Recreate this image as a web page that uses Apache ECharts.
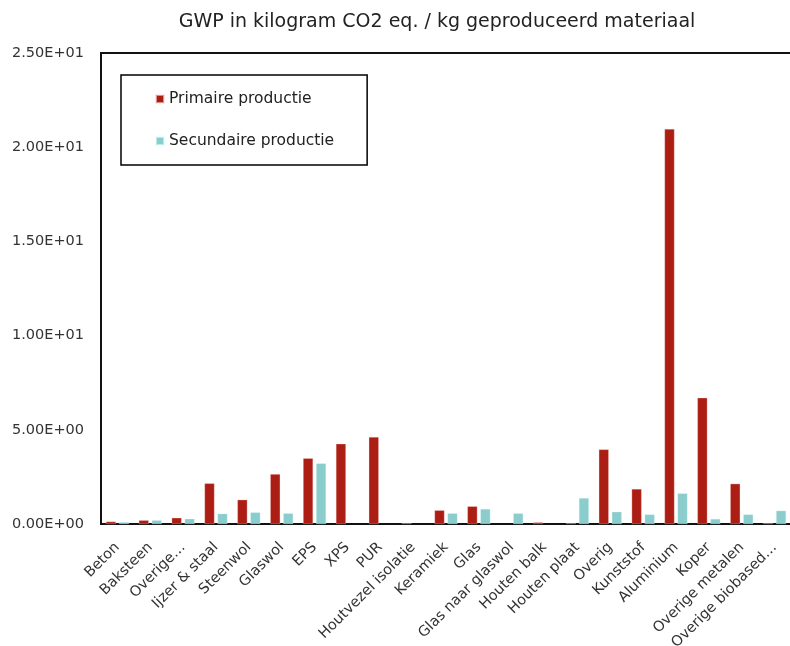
<!DOCTYPE html>
<html>
<head>
<meta charset="utf-8">
<script src="https://cdn.jsdelivr.net/npm/echarts@6/dist/echarts.min.js"></script>
<style>html,body{margin:0;padding:0;background:#fff;}#c{width:790px;height:646px;}</style>
</head>
<body>
<div id="c"></div>
<script>
const categories = ['Beton','Baksteen','Overige…','Ijzer & staal','Steenwol','Glaswol','EPS','XPS','PUR','Houtvezel isolatie','Keramiek','Glas','Glas naar glaswol','Houten balk','Houten plaat','Overig','Kunststof','Aluminium','Koper','Overige metalen','Overige biobased…'];
const primaire = [0.13,0.2,0.33,2.16,1.29,2.65,3.49,4.26,4.62,0.05,0.73,0.94,null,0.09,0.05,3.96,1.86,20.97,6.70,2.14,0.05];
const secundaire = [0.1,0.2,0.28,0.55,0.62,0.57,3.22,null,null,null,0.57,0.80,0.57,null,1.38,0.65,0.51,1.63,0.27,0.51,0.71];
const yTicks = [0,5,10,15,20,25];

function sci(v){
  if (v === 0) return '0.00E+00';
  const e = Math.floor(Math.log10(Math.abs(v)));
  const m = v / Math.pow(10, e);
  const es = (e < 0 ? '-' : '+') + String(Math.abs(e)).padStart(2,'0');
  return m.toFixed(2) + 'E' + es;
}

const FONT = 'DejaVu Sans';
const chart = echarts.init(document.getElementById('c'), null, {renderer:'canvas'});
chart.setOption({
  animation: false,
  backgroundColor: '#fff',
  textStyle: {fontFamily: FONT},
  title: {
    text: 'GWP in kilogram CO2 eq. / kg geproduceerd materiaal',
    left: 432, top: 8, textAlign: 'center',
    textStyle: {fontSize: 19, fontWeight: 'normal', color: '#222', fontFamily: FONT}
  },
  legend: {
    orient: 'vertical',
    left: 121, top: 75,
    padding: [16, 33, 16, 34],
    itemGap: 26,
    itemWidth: 8, itemHeight: 8,
    icon: 'rect',
    borderColor: '#000', borderWidth: 1.5,
    textStyle: {fontSize: 15.5, color: '#222', fontFamily: FONT},
    data: ['Primaire productie','Secundaire productie']
  },
  grid: {
    left: 101, top: 53, width: 690, bottom: 122,
    outerBoundsMode: 'none',
    show: true, borderColor: '#111', borderWidth: 2, containLabel: false
  },
  xAxis: {
    type: 'category',
    data: categories,
    axisLine: {show: true, lineStyle: {color: '#111', width: 2}},
    axisTick: {show: false},
    axisLabel: {interval: 0, rotate: 45, fontSize: 14.5, color: '#333', margin: 21, fontFamily: FONT}
  },
  yAxis: {
    type: 'value',
    min: yTicks[0], max: yTicks[yTicks.length-1], interval: 5,
    axisLine: {show: false},
    axisTick: {show: false},
    splitLine: {show: false},
    axisLabel: {fontSize: 14.5, color: '#333', margin: 17, formatter: sci, fontFamily: FONT}
  },
  series: [
    {name: 'Primaire productie', type: 'bar', data: primaire, barWidth: 10, barGap: '30%',
     itemStyle: {color: '#AC1E13', borderColor: 'rgba(255,220,220,0.6)', borderWidth: 0.5}},
    {name: 'Secundaire productie', type: 'bar', data: secundaire, barWidth: 10,
     itemStyle: {color: '#8BCCCC', borderColor: 'rgba(220,255,255,0.6)', borderWidth: 0.5}}
  ]
});
</script>
</body>
</html>
